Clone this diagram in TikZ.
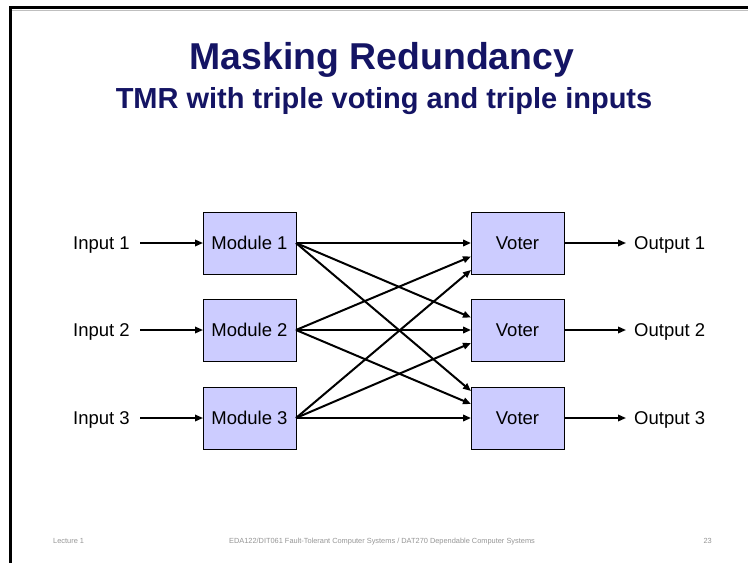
\documentclass[tikz,border=0pt]{standalone}
\usepackage{fontspec}
\setmainfont{Liberation Sans}
\usetikzlibrary{arrows.meta,calc}

\definecolor{titleblue}{RGB}{20,20,100}
\definecolor{boxfill}{RGB}{204,204,255}
\definecolor{footgray}{RGB}{150,150,150}

\tikzset{
  unitbox/.style={draw=black, line width=0.9pt, fill=boxfill, minimum width=93pt,
    minimum height=62pt, inner sep=0pt, outer sep=0pt,
    font=\fontsize{18.5}{20}\selectfont},
  lbl/.style={inner sep=0pt, font=\fontsize{18.5}{20}\selectfont},
  foot/.style={inner sep=0pt, text=footgray, font=\fontsize{7.4}{9}\selectfont},
  wire/.style={line width=2pt, -{Triangle[length=8pt,width=6.5pt]}},
  iowire/.style={wire, line width=1.7pt},
}

\begin{document}
\begin{tikzpicture}[x=1pt,y=-1pt]
  \useasboundingbox (0,0) rectangle (748,563);
  \fill[white] (0,0) rectangle (748,563);

  % slide frame
  \draw[gray!50, line width=1pt] (12,10.3) -- (748,10.3);
  \draw[black, line width=2.6pt] (10.3,563) -- (10.3,7.6) -- (748,7.6);

  % titles
  \node[anchor=base, inner sep=0pt, text=titleblue,
        font=\fontsize{37.4}{40}\selectfont\bfseries] (title) at (382,69) {Masking Redundancy};
  \node[anchor=base, inner sep=0pt, text=titleblue,
        font=\fontsize{29}{32}\selectfont\bfseries] (subtitle) at (384,108.5) {TMR with triple voting and triple inputs};

  % modules and voters
  \node[unitbox] (m1) at (249.5,243) {Module 1};
  \node[unitbox] (m2) at (249.5,330) {Module 2};
  \node[unitbox] (m3) at (249.5,418) {Module 3};
  \node[unitbox] (v1) at (517.5,243) {Voter};
  \node[unitbox] (v2) at (517.5,330) {Voter};
  \node[unitbox] (v3) at (517.5,418) {Voter};

  % inputs
  \node[lbl, anchor=base east] (in1) at (130,249.6) {Input 1};
  \node[lbl, anchor=base east] (in2) at (130,336.6) {Input 2};
  \node[lbl, anchor=base east] (in3) at (130,424.6) {Input 3};
  \coordinate (i1) at (140,243);
  \coordinate (i2) at (140,330);
  \coordinate (i3) at (140,418);
  \draw[iowire] (i1) -- (m1.west);
  \draw[iowire] (i2) -- (m2.west);
  \draw[iowire] (i3) -- (m3.west);

  % outputs
  \node[lbl, anchor=base west] (out1) at (634,249.6) {Output 1};
  \node[lbl, anchor=base west] (out2) at (634,336.6) {Output 2};
  \node[lbl, anchor=base west] (out3) at (634,424.6) {Output 3};
  \coordinate (o1) at (626,243);
  \coordinate (o2) at (626,330);
  \coordinate (o3) at (626,418);
  \draw[iowire] (v1.east) -- (o1);
  \draw[iowire] (v2.east) -- (o2);
  \draw[iowire] (v3.east) -- (o3);

  % voter input points
  \coordinate (v1a) at ($(v1.west)+(0,0)$);
  \coordinate (v1b) at ($(v1.west)+(0,13.5)$);
  \coordinate (v1c) at ($(v1.west)+(0,27)$);
  \coordinate (v2a) at ($(v2.west)+(0,-12.5)$);
  \coordinate (v2b) at ($(v2.west)+(0,0)$);
  \coordinate (v2c) at ($(v2.west)+(0,13)$);
  \coordinate (v3a) at ($(v3.west)+(0,-27)$);
  \coordinate (v3b) at ($(v3.west)+(0,-14)$);
  \coordinate (v3c) at ($(v3.west)+(0,0)$);

  % full cross connection
  \draw[wire] (m1.east) -- (v1a);
  \draw[wire] (m1.east) -- (v2a);
  \draw[wire] (m1.east) -- (v3a);
  \draw[wire] (m2.east) -- (v1b);
  \draw[wire] (m2.east) -- (v2b);
  \draw[wire] (m2.east) -- (v3b);
  \draw[wire] (m3.east) -- (v1c);
  \draw[wire] (m3.east) -- (v2c);
  \draw[wire] (m3.east) -- (v3c);

  % footer
  \node[foot, anchor=base west] (lect) at (53,543.5) {Lecture 1};
  \node[foot, anchor=base] (course) at (382,543.5) {EDA122/DIT061 Fault-Tolerant Computer Systems / DAT270 Dependable Computer Systems};
  \node[foot, anchor=base east] (page) at (712,543.5) {23};
\end{tikzpicture}
\end{document}
